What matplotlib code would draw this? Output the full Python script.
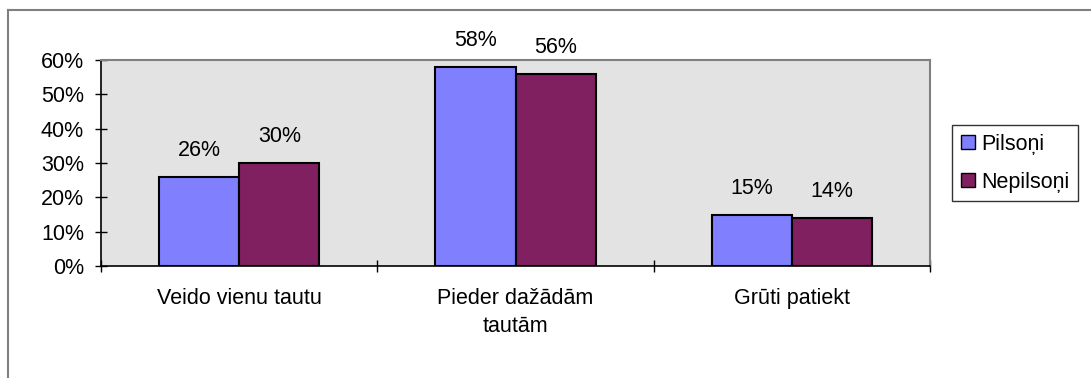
import matplotlib
matplotlib.use("Agg")
import matplotlib.pyplot as plt
from matplotlib.lines import Line2D
import numpy as np

categories = ["Veido vienu tautu", "Pieder dažādām\ntautām", "Grūti patiekt"]
series_names = ["Pilsoņi", "Nepilsoņi"]
pilsoni = [26, 58, 15]
nepilsoni = [30, 56, 14]
colors = ["#8080FF", "#802060"]

plt.rcParams['font.family'] = ['Liberation Sans', 'DejaVu Sans']
FS = 15.5

W, H = 1091, 378
fig = plt.figure(figsize=(W / 100, H / 100), dpi=100)
ax = fig.add_axes([101 / W, 1 - 266 / H, (930 - 101) / W, (266 - 60) / H])

x = np.arange(len(categories))
width = 0.29
for i, (vals, name) in enumerate(zip([pilsoni, nepilsoni], series_names)):
    b = ax.bar(x + (i - 0.5) * width, vals, width, color=colors[i],
               edgecolor="black", linewidth=1.5, label=name, zorder=3)
    for rect, v in zip(b, vals):
        ax.annotate(f"{v}%", (rect.get_x() + rect.get_width() / 2, v),
                    xytext=(0, 15), textcoords="offset points",
                    ha="center", va="baseline", fontsize=FS)

ax.set_xlim(-0.5, 2.5)
ax.set_ylim(0, 60)
ax.set_facecolor("#E3E3E3")
ax.set_yticks(range(0, 61, 10))
ax.set_yticklabels([f"{t}%" for t in range(0, 61, 10)], fontsize=FS)
ax.set_xticks(x)
ax.set_xticklabels(categories, fontsize=FS, linespacing=1.45)
ax.tick_params(axis="x", length=0, pad=15.5)
ax.set_xticks([-0.5, 0.5, 1.5, 2.5], minor=True)
ax.tick_params(axis="x", which="minor", direction="inout", length=9, width=1)
ax.tick_params(axis="y", direction="inout", length=8.6, width=1, pad=8)

for side in ["top", "right"]:
    ax.spines[side].set_color("#808080")
    ax.spines[side].set_linewidth(1.5)
ax.spines["left"].set_linewidth(1.2)
ax.spines["bottom"].set_linewidth(1.2)

leg = ax.legend(loc="upper left", bbox_to_anchor=(952 / W, 1 - 125 / H),
                bbox_transform=fig.transFigure, borderaxespad=0,
                fontsize=FS, frameon=True, fancybox=False, handlelength=0.65,
                handleheight=0.65, handletextpad=0.3, labelspacing=0.8,
                borderpad=0.4)
leg.get_frame().set_edgecolor("black")
leg.get_frame().set_linewidth(1)
for h in leg.legend_handles:
    h.set_linewidth(1)

# outer chart frame
fig.add_artist(Line2D([8 / W, 1], [1 - 10 / H, 1 - 10 / H], color="#808080", lw=1.5))
fig.add_artist(Line2D([8 / W, 8 / W], [0, 1 - 10 / H], color="#808080", lw=1.5))

fig.savefig("out.png", dpi=100)
